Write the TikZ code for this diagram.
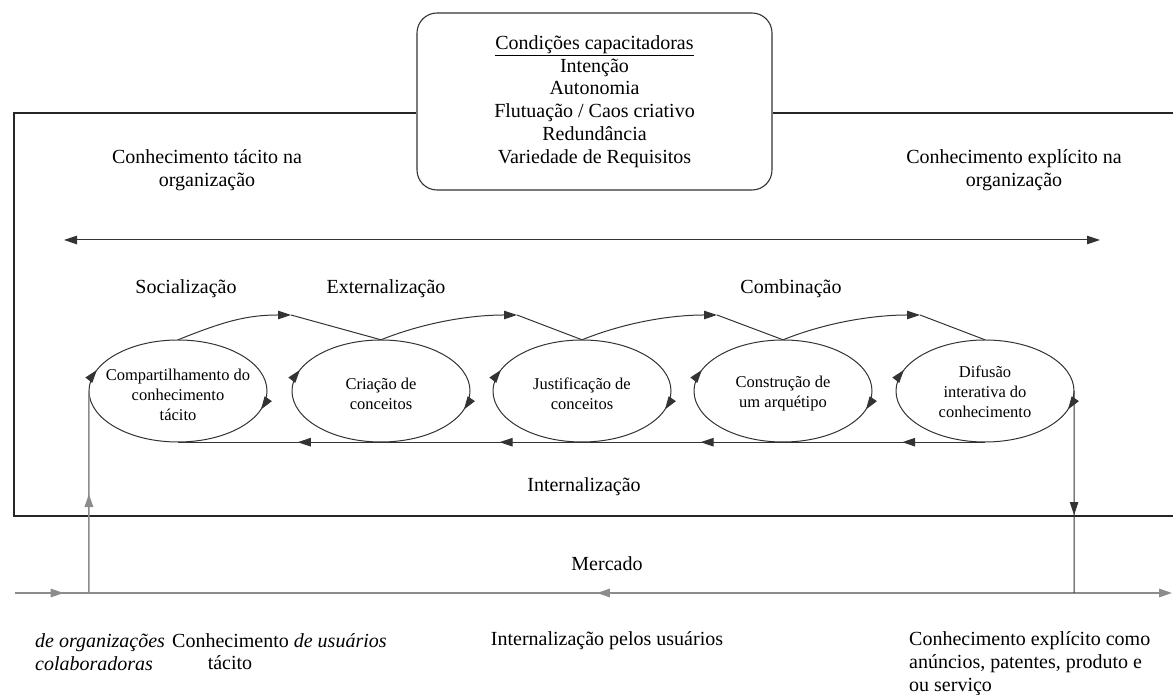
\documentclass[tikz,border=0pt]{standalone}
\usepackage{fontspec}
\setmainfont{Liberation Serif}
\usetikzlibrary{arrows.meta,shapes.geometric,decorations.markings,calc}

\tikzset{
  frameline/.style={line width=1.3pt, black!85},
  flow/.style={line width=1pt, black!80},
  mline/.style={line width=1.5pt, black!45},
  condbox/.style={draw, line width=1.1pt, black!80, text=black, rounded corners=20pt,
    minimum width=355pt, minimum height=177pt, inner sep=0pt, align=center,
    font=\fontsize{20}{22.8}\selectfont},
  lbl/.style={font=\fontsize{20}{23}\selectfont, align=center, inner sep=0pt},
  ell/.style={ellipse, minimum width=178pt, minimum height=102pt, inner sep=0pt},
  elltext/.style={font=\fontsize{16.5}{20}\selectfont, align=center, inner sep=0pt},
  ellflow/.style={flow, postaction={decorate, decoration={markings,
      mark=at position 0.449 with {\arrowreversed{>}},
      mark=at position 0.956 with {\arrowreversed{>}}}}},
  midtip/.style={postaction={decorate, decoration={markings,
      mark=at position #1 with {\arrow{>}}}}},
  midtipback/.style={postaction={decorate, decoration={markings,
      mark=at position #1 with {\arrowreversed{>}}}}},
}

\begin{document}
\begin{tikzpicture}[x=1pt, y=1pt, >={Triangle[length=13pt,width=8.5pt]}]
\useasboundingbox (0,0) rectangle (1173,695);

% enabling conditions
\node[condbox] (cond) at (594.5,593.5)
  {\underline{Condições capacitadoras}\\Intenção\\Autonomia\\Flutuação / Caos criativo\\Redundância\\Variedade de Requisitos};

% organisation frame (open on the right)
\coordinate (fTL) at (14,582);
\coordinate (fBL) at (14,179);
\coordinate (fBR) at (1173,179);
\coordinate (fTR) at (1173,582);
\draw[frameline] (cond.west |- fTL) -- (fTL) -- (fBL) -- (fBR);
\draw[frameline] (cond.east |- fTR) -- (fTR);

% tacit / explicit axis
\node[lbl] (tacit) at (207,524.5) {Conhecimento tácito na\\organização};
\node[lbl] (explicit) at (1014,524.5) {Conhecimento explícito na\\organização};
\coordinate (ta) at (64,455);
\coordinate (tb) at (1100,455);
\draw[flow, <->] (ta) -- (tb);

% mode labels
\node[lbl] (soc) at (186,406) {Socialização};
\node[lbl] (ext) at (386,406) {Externalização};
\node[lbl] (comb) at (791,406) {Combinação};

% phases
\node[ell] (e1) at (178,304) {};
\node[ell] (e2) at (381,304) {};
\node[ell] (e3) at (582,304) {};
\node[ell] (e4) at (783,304) {};
\node[ell] (e5) at (985,304) {};
\foreach \e in {e1,e2,e3,e4,e5}
  \draw[ellflow] (\e.center) ellipse [x radius=89, y radius=51];

\node[elltext] (t1) at ($(e1.center)+(0,-4)$) {Compartilhamento do\\conhecimento\\tácito};
\node[elltext] (t2) at ($(e2.center)+(0,-3)$) {Criação de\\conceitos};
\node[elltext] (t3) at ($(e3.center)+(0,-3)$) {Justificação de\\conceitos};
\node[elltext] (t4) at ($(e4.center)+(0,-3)$) {Construção de\\um arquétipo};
\node[elltext] (t5) at ($(e5.center)+(0,-1)$) {Difusão\\interativa do\\conhecimento};

% forward links over the top
\coordinate (p1) at (291,380);
\coordinate (p2) at (517,380);
\coordinate (p3) at (717,380);
\coordinate (p4) at (920,380);
\draw[flow, ->] (e1.north) .. controls +(45,18) and +(-45,0) .. (p1);
\draw[flow] (p1) -- (e2.north);
\draw[flow, ->] (e2.north) .. controls +(45,18) and +(-45,0) .. (p2);
\draw[flow] (p2) -- (e3.north);
\draw[flow, ->] (e3.north) .. controls +(45,18) and +(-45,0) .. (p3);
\draw[flow] (p3) -- (e4.north);
\draw[flow, ->] (e4.north) .. controls +(45,18) and +(-45,0) .. (p4);
\draw[flow] (p4) -- (e5.north);

% internalization back along the bottom
\draw[flow, midtip=0.41] (e5.south) -- (e4.south);
\draw[flow, midtip=0.41] (e4.south) -- (e3.south);
\draw[flow, midtip=0.41] (e3.south) -- (e2.south);
\draw[flow, midtip=0.41] (e2.south) -- (e1.south);
\node[lbl] (intern) at (584,208) {Internalização};

% market
\node[lbl] (mercado) at (607,131) {Mercado};
\coordinate (ma) at (15,102);
\coordinate (mb) at (1172,102);
\coordinate (mL) at (89,102);
\coordinate (mR) at (1074,102);
\draw[mline, ->, midtip=0.042, midtipback=0.503] (ma) -- (mb);
\draw[mline, midtip=0.49] (mL) -- (e1.west);
\draw[flow, midtip=0.614] (e5.east) -- (mR);

% market-side labels
\node[lbl, align=left, anchor=west] (colab) at (35,43) {\textit{de organizações}\\\textit{colaboradoras}};
\node[lbl, anchor=west] (users) at (172,54) {Conhecimento \textit{de usuários}};
\node[lbl] (tac) at (230,32) {tácito};
\node[lbl] (intusers) at (607,54) {Internalização pelos usuários};
\node[lbl, align=left, anchor=west] (expl) at (909,31.5) {Conhecimento explícito como\\anúncios, patentes, produto e\\ou serviço};
\end{tikzpicture}
\end{document}
